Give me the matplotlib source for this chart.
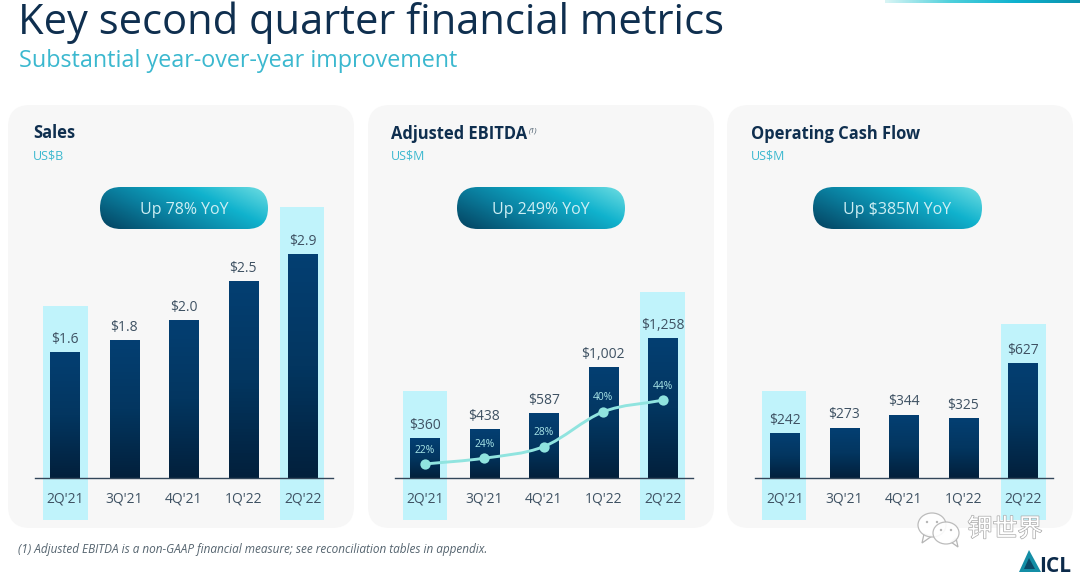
# -*- coding: utf-8 -*-
"""Key second quarter financial metrics slide, three bar panels."""
import matplotlib

matplotlib.use("Agg")
import matplotlib.pyplot as plt
import matplotlib.patheffects as pe
import numpy as np
from matplotlib.colors import LinearSegmentedColormap
from matplotlib.patches import Ellipse, FancyBboxPatch, PathPatch, Polygon, Rectangle
from matplotlib.path import Path

plt.rcParams["font.family"] = ["Open Sans", "Noto Sans CJK SC", "DejaVu Sans"]

W, H = 1080, 578

quarters = ["2Q'21", "3Q'21", "4Q'21", "1Q'22", "2Q'22"]

sales = [1.64, 1.79, 2.05, 2.56, 2.91]
sales_labels = ["$1.6", "$1.8", "$2.0", "$2.5", "$2.9"]

ebitda = [360, 438, 587, 1002, 1258]
ebitda_labels = ["$360", "$438", "$587", "$1,002", "$1,258"]
margin = [22, 24, 28, 40, 44]
margin_labels = ["22%", "24%", "28%", "40%", "44%"]

cash_flow = [242, 273, 344, 325, 627]
cash_labels = ["$242", "$273", "$344", "$325", "$627"]

NAVY = "#0f2f4f"
TEAL = "#3bb8cf"
GREY = "#3f5263"
HIGHLIGHT = "#c0f3fb"
PANEL = "#f7f7f7"
LINE = "#90e4df"

bar_cmap = LinearSegmentedColormap.from_list("bar", ["#02203c", "#033660", "#043f72"])
pill_cmap = LinearSegmentedColormap.from_list(
    "pill", ["#054a68", "#0a7f9f", "#10b2cd", "#6edde2"]
)
strip_cmap = LinearSegmentedColormap.from_list(
    "strip", ["#d9f5f5", "#4fd0dc", "#0fb2cf", "#0b92ad"]
)

fig = plt.figure(figsize=(W / 100, H / 100), dpi=100, facecolor="white")

# backdrop axes in reference pixels: cards, highlights, headings
bg = fig.add_axes([0, 0, 1, 1])
bg.set_xlim(0, W)
bg.set_ylim(H, 0)
bg.axis("off")


def card(x0, x1, y0, y1, r=22):
    bg.add_patch(
        FancyBboxPatch(
            (x0 + r, y0 + r),
            x1 - x0 - 2 * r,
            y1 - y0 - 2 * r,
            boxstyle=f"round,pad={r},rounding_size={r}",
            fc=PANEL,
            ec="none",
        )
    )


def pill(x0, x1, y0, y1, text):
    r = (y1 - y0) / 2
    box = FancyBboxPatch(
        (x0 + r, y0 + r),
        x1 - x0 - 2 * r,
        0.01,
        boxstyle=f"round,pad={r},rounding_size={r}",
        fc="none",
        ec="none",
    )
    bg.add_patch(box)
    u, v = np.meshgrid(np.linspace(0, 1, 120), np.linspace(1, 0, 40))
    im = bg.imshow(
        0.72 * u + 0.4 * v - 0.06 * (1 - u),
        extent=[x0, x1, y1, y0],
        cmap=pill_cmap,
        vmin=0,
        vmax=1.12,
        aspect="auto",
        zorder=3,
    )
    im.set_clip_path(box)
    bg.text((x0 + x1) / 2, (y0 + y1) / 2 + 2, text, color="#cdeef3", fontsize=11.5,
            ha="center", va="center", zorder=4)


card(8, 354, 105, 528)
card(368, 714, 105, 528)
card(727, 1073, 105, 528)

for x0, x1, top in [(43, 88, 306), (280, 324, 207), (403, 447, 391),
                    (640, 685, 292), (762, 806, 391), (1001, 1046, 324)]:
    bg.add_patch(Rectangle((x0, top), x1 - x0, 520 - top, fc=HIGHLIGHT, ec="none"))

pill(100, 268, 187, 229, "Up 78% YoY")
pill(457, 625, 187, 229, "Up 249% YoY")
pill(813, 982, 187, 229, "Up $385M YoY")

bg.text(18, 34, "Key second quarter financial metrics", color=NAVY, fontsize=30)
bg.text(19, 67, "Substantial year-over-year improvement", color=TEAL, fontsize=16.8)

for x, y, title, unit in [(33, 138, "Sales", "US$B"), (391, 139, "Adjusted EBITDA", "US$M"),
                          (751, 139, "Operating Cash Flow", "US$M")]:
    bg.text(x, y, title, color=NAVY, fontsize=11.9, fontweight="bold")
    bg.text(x, 160, unit, color=TEAL, fontsize=9)
bg.text(529, 133, "(1)", color=GREY, fontsize=5.5, style="italic")

bg.text(18, 553, "(1) Adjusted EBITDA is a non-GAAP financial measure; see reconciliation tables in appendix.",
        color="#55646f", fontsize=8.5, style="italic")

# gradient strip at the top right corner
bg.imshow(np.linspace(0, 1, 200).reshape(1, -1), extent=[885, W, 3, 0], cmap=strip_cmap,
          aspect="auto")

# WeChat watermark
for cx, cy, rx, ry, tail in [(932, 525, 14, 12, [(924, 534), (922, 543), (932, 536)]),
                             (946, 533, 13, 11, [(951, 542), (958, 547), (956, 538)])]:
    bg.add_patch(Polygon(tail, fc="#ffffff", ec="#b5b5b5", lw=0.9))
    bg.add_patch(Ellipse((cx, cy), 2 * rx, 2 * ry, fc="#ffffff", ec="#b5b5b5", lw=0.9, alpha=0.9))
    bg.add_patch(Ellipse((cx - 5, cy - 3), 2.4, 2.4, fc="#b5b5b5", ec="none"))
    bg.add_patch(Ellipse((cx + 5, cy - 3), 2.4, 2.4, fc="#b5b5b5", ec="none"))
bg.text(1005, 530, "钾世界", color="white", fontsize=18, ha="center", va="center",
        path_effects=[pe.withStroke(linewidth=1.0, foreground="#a9a9a9")])

# ICL logo
bg.add_patch(Polygon([(1029, 550), (1041, 572), (1019, 572)], fc="#148ea6", ec="none"))
bg.add_patch(Polygon([(1029, 558), (1035, 569), (1024, 569)], fc="#0c4a68", ec="none"))
bg.text(1039, 572, "ICL", color="#0b2a4a", fontsize=15, fontweight="bold")
bg.set_xlim(0, W)
bg.set_ylim(H, 0)


def bar_panel(x0, values, labels, px_per_unit):
    """Bars with gradient fill; the axes bottom sits on the pixel baseline."""
    base, top, width = 478, 200, 297.5
    ax = fig.add_axes([x0 / W, 1 - base / H, width / W, (base - top) / H])
    ax.patch.set_alpha(0)
    xs = np.arange(len(values))
    ax.bar(xs, values, width=0.49, color="none")
    for x, v, label in zip(xs, values, labels):
        ax.imshow(np.linspace(0, 1, 64).reshape(-1, 1), extent=[x - 0.245, x + 0.245, 0, v],
                  origin="lower", cmap=bar_cmap, aspect="auto", zorder=2)
        ax.annotate(label, (x, v), xytext=(0, 4), textcoords="offset points",
                    ha="center", va="bottom", color=GREY, fontsize=10)
    ax.set_xlim(-0.5, 4.5)
    ax.set_ylim(0, (base - top) / px_per_unit)
    ax.set_yticks([])
    ax.set_xticks(xs, quarters)
    ax.tick_params(axis="x", length=0, pad=10, labelsize=10, labelcolor=GREY)
    for side in ["top", "left", "right"]:
        ax.spines[side].set_visible(False)
    ax.spines["bottom"].set_color("#33465a")
    ax.spines["bottom"].set_linewidth(1.0)
    ax.spines["bottom"].set_zorder(5)
    return ax


bar_panel(35, sales, sales_labels, 76.7)
ax_ebitda = bar_panel(395, ebitda, ebitda_labels, 0.1105)
bar_panel(755, cash_flow, cash_labels, 0.183)

# margin line on its own scale, smoothed through the points
ax_margin = ax_ebitda.twinx()
ax_margin.patch.set_alpha(0)
ax_margin.set_ylim(22 - 14 / 2.9, 22 - 14 / 2.9 + 278 / 2.9)
ax_margin.set_yticks([])
for spine in ax_margin.spines.values():
    spine.set_visible(False)

pts = np.column_stack([np.arange(len(margin)), margin]).astype(float)
tangents = np.gradient(pts, axis=0)
verts, codes = [pts[0]], [Path.MOVETO]
for i in range(len(pts) - 1):
    verts += [pts[i] + tangents[i] / 3, pts[i + 1] - tangents[i + 1] / 3, pts[i + 1]]
    codes += [Path.CURVE4] * 3
ax_margin.add_patch(PathPatch(Path(verts, codes), fc="none", ec=LINE, lw=2.1, zorder=3))
ax_margin.plot(pts[:, 0], pts[:, 1], ls="none", marker="o", ms=7.4, color=LINE, mec="none", zorder=4)
for x, y, label in zip(pts[:, 0], pts[:, 1], margin_labels):
    ax_margin.annotate(label, (x, y), xytext=(0, 6), textcoords="offset points", ha="center",
                       va="bottom", color="#a9e6e8", fontsize=7.4, zorder=5)

fig.savefig("out.png", dpi=100)
